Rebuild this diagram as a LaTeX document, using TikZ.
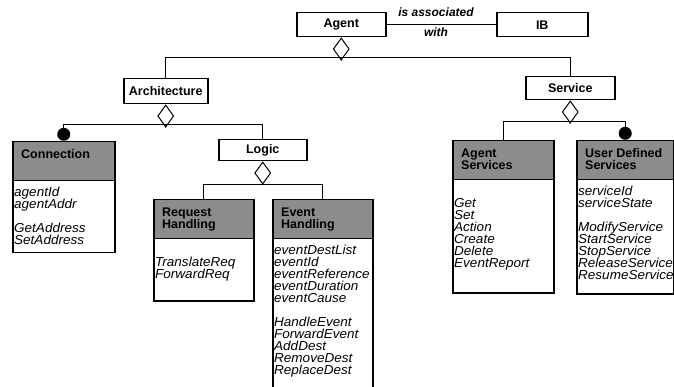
\documentclass[tikz,border=0pt]{standalone}
\usepackage{fontspec}
\setmainfont{Liberation Sans}
\newfontfamily\listfont{Liberation Sans}[FakeStretch=1.04]
\usetikzlibrary{shapes.geometric}

% fixes the height of the first text line in a box
\newcommand\topstrut{\rule{0pt}{10pt}}
% keeps the line pitch fixed even where ascenders and descenders meet
\newcommand\tightlines{\setlength{\lineskiplimit}{-6pt}}

% class box: name, x, y (top left), width, height, header text, body text
\newcommand\umlclass[7]{%
  \node[classbox, minimum width=#4pt, minimum height=#5pt] (#1) at (#2,#3) {};
  \node[hdrtext] (#1-hdr) at ([shift={(9pt,-7.5pt)}]#1.north west) {\topstrut#6};
  \node[bodytext] (#1-body) at ([shift={(2pt,-45.5pt)}]#1.north west) {\topstrut#7};
}

\tikzset{
  plainbox/.style={draw, line width=1.5pt, inner sep=0pt, anchor=north west,
    fill=white, font=\fontsize{12.5}{12}\selectfont\bfseries},
  classbox/.style={draw, line width=1.5pt, inner sep=0pt, anchor=north west,
    fill=white,
    path picture={
      \fill[hdrfill] (path picture bounding box.north west) rectangle
        ([yshift=-39pt]path picture bounding box.north east);
      \draw[line width=1.3pt] ([yshift=-39pt]path picture bounding box.north west) --
        ([yshift=-39pt]path picture bounding box.north east);
    }},
  hdrfill/.style={fill=black!45},
  hdrtext/.style={anchor=north west, inner sep=0pt, align=left,
    font=\fontsize{12.5}{12}\selectfont\bfseries\tightlines},
  bodytext/.style={anchor=north west, inner sep=0pt, align=left,
    font=\listfont\fontsize{13}{12}\selectfont\itshape\tightlines},
  assoc/.style={inner sep=0pt, font=\fontsize{12}{12}\selectfont\bfseries\itshape},
  agg/.style={draw, shape=diamond, fill=white, inner sep=0pt, minimum width=16pt,
    minimum height=22pt, line width=1pt, anchor=north},
  many/.style={circle, fill=black, inner sep=0pt, minimum size=13pt, anchor=south},
  link/.style={line width=1pt},
}

\begin{document}
\begin{tikzpicture}[x=1pt, y=-1pt]
\useasboundingbox (0,0) rectangle (674,387);
\clip (0,0) rectangle (674,387);

% top level: Agent and IB
\node[plainbox, minimum width=89pt, minimum height=24pt] (agent) at (296,12) {Agent};
\node[plainbox, minimum width=91pt, minimum height=24pt] (ib) at (496,12) {IB};
\draw[link] (agent.east) -- (ib.west);
\node[assoc] (assocA) at (436,12) {is associated};
\node[assoc] (assocB) at (436,32) {with};

% first level parts
\node[plainbox, minimum width=84pt, minimum height=25pt] (arch) at (123,78) {Architecture};
\node[plainbox, minimum width=89pt, minimum height=23pt] (serv) at (525,76) {Service};

\node[agg] (aggAgent) at (agent.south) {};
\coordinate (busAgent) at (340.5,58);
\draw[link] (aggAgent.south) -- (busAgent);
\draw[link] (arch.north) -- (arch.north |- busAgent) -- (serv.north |- busAgent) -- (serv.north);

% Architecture parts
\node[plainbox, minimum width=88pt, minimum height=21pt] (logic) at (218,139) {Logic};
\umlclass{conn}{12}{141}{102}{111}{Connection}{agentId\\agentAddr\\\topstrut\\GetAddress\\SetAddress}
\node[many] (connDot) at (conn.north) {};

\node[agg] (aggArch) at (arch.south) {};
\coordinate (busArch) at (165,125);
\draw[link] (aggArch.south) -- (busArch);
\draw[link] (connDot.north) -- (connDot.north |- busArch) -- (logic.north |- busArch) -- (logic.north);

% Logic parts
\umlclass{req}{153}{199}{100}{101}{Request\\Handling}{\\TranslateReq\\ForwardReq}
\umlclass{evt}{272}{199}{100}{195}{Event\\Handling}{eventDestList\\eventId\\eventReference\\eventDuration\\eventCause\\\topstrut\\HandleEvent\\ForwardEvent\\AddDest\\RemoveDest\\ReplaceDest}

\node[agg] (aggLogic) at (logic.south) {};
\coordinate (busLogic) at (262,185);
\draw[link] (aggLogic.south) -- (busLogic);
\draw[link] (req.north) -- (req.north |- busLogic) -- (evt.north |- busLogic) -- (evt.north);

% Service parts
\umlclass{asrv}{452}{140}{101}{152}{Agent\\Services}{\\Get\\Set\\Action\\Create\\Delete\\EventReport}
\umlclass{usrv}{576}{140}{97}{153}{User Defined\\Services}{serviceId\\serviceState\\\topstrut\\ModifyService\\StartService\\StopService\\ReleaseService\\ResumeService}
\node[many] (usrvDot) at (usrv.north) {};

\node[agg] (aggServ) at (serv.south) {};
\coordinate (busServ) at (569.5,122);
\draw[link] (aggServ.south) -- (busServ);
\draw[link] (asrv.north) -- (asrv.north |- busServ) -- (usrvDot.north |- busServ) -- (usrvDot.north);
\end{tikzpicture}
\end{document}
